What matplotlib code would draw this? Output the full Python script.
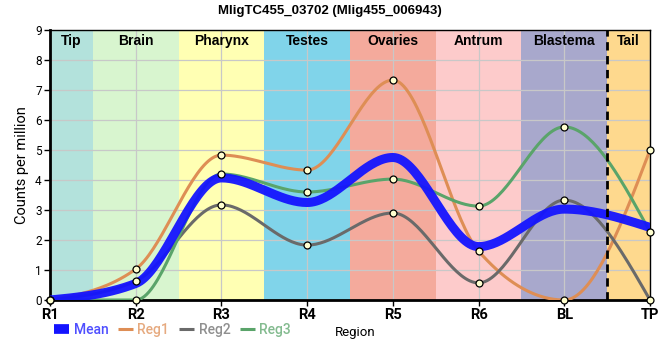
import numpy as np
import matplotlib
matplotlib.use("Agg")
import matplotlib.pyplot as plt
from matplotlib.lines import Line2D

regions = ["R1", "R2", "R3", "R4", "R5", "R6", "BL", "TP"]
reg1 = [0, 1.03, 4.83, 4.33, 7.33, 1.63, 0, 5.0]
reg2 = [0, 0.63, 3.17, 1.83, 2.9, 0.57, 3.33, 0]
reg3 = [0, 0, 4.2, 3.6, 4.03, 3.13, 5.77, 2.27]
mean = [0, 0.55, 4.07, 3.25, 4.75, 1.78, 3.03, 2.42]

band_names = ["Tip", "Brain", "Pharynx", "Testes", "Ovaries", "Antrum", "Blastema", "Tail"]
band_edges = [0, 0.5, 1.5, 2.5, 3.5, 4.5, 5.5, 6.5, 7]
band_colors = ["#b3e2dc", "#d8f5cf", "#ffffb3", "#80d4ea", "#f4aa9c", "#fdcbcb", "#a8a8cc", "#fed98e"]

series_names = ["Reg1", "Reg2", "Reg3"]
series_colors = ["#de8e55", "#6a6a6a", "#5aa46a"]
mean_color = "#1414ff"


def monotone(x, y, n=40):
    # monotone cubic (d3 curveMonotoneX style)
    x = np.asarray(x, float)
    y = np.asarray(y, float)
    h = np.diff(x)
    s = np.diff(y) / h
    m = np.zeros_like(y)
    for i in range(1, len(y) - 1):
        s0, s1 = s[i - 1], s[i]
        p = (s0 * h[i] + s1 * h[i - 1]) / (h[i - 1] + h[i])
        m[i] = (np.sign(s0) + np.sign(s1)) * min(abs(s0), abs(s1), 0.5 * abs(p))
    m[0] = (3 * s[0] - m[1]) / 2
    m[-1] = (3 * s[-1] - m[-2]) / 2
    xs, ys = [], []
    for i in range(len(h)):
        t = np.linspace(0, 1, n)
        h00 = 2 * t**3 - 3 * t**2 + 1
        h10 = t**3 - 2 * t**2 + t
        h01 = -2 * t**3 + 3 * t**2
        h11 = t**3 - t**2
        xs.append(x[i] + t * h[i])
        ys.append(h00 * y[i] + h10 * h[i] * m[i] + h01 * y[i + 1] + h11 * h[i] * m[i + 1])
    return np.concatenate(xs), np.concatenate(ys)


fig = plt.figure(figsize=(6.6, 3.6), dpi=100)
ax = fig.add_axes([50 / 660, 60 / 360, 600 / 660, 270 / 360])

xpos = np.arange(len(regions))
for i, (name, col) in enumerate(zip(band_names, band_colors)):
    ax.axvspan(band_edges[i], band_edges[i + 1], color=col, zorder=0, lw=0)
    ax.text((band_edges[i] + band_edges[i + 1]) / 2, 8.88, name, ha="center", va="top",
            fontsize=10, fontweight="bold", family="Liberation Sans", zorder=6)

ax.grid(True, color="#c8c8c8", lw=0.9, zorder=1)
ax.set_axisbelow(True)
ax.axvline(6.5, color="black", lw=2, ls=(0, (3, 2)), zorder=5)

for vals, col in zip([reg1, reg2, reg3], series_colors):
    xs, ys = monotone(xpos, vals)
    ax.plot(xs, ys, color=col, lw=2.2, zorder=3, solid_capstyle="round")

xs, ys = monotone(xpos, mean)
ax.plot(xs, ys, color=mean_color, lw=6.5, alpha=0.95, zorder=4, solid_capstyle="round")

for vals in [reg1, reg2, reg3]:
    ax.plot(xpos, vals, ls="none", marker="o", ms=5, mfc="#ffffd0", mec="black", mew=0.9,
            zorder=7, clip_on=False)

ax.set_xlim(0, 7)
ax.set_ylim(0, 9)
ax.set_xticks(xpos)
ax.set_xticklabels(regions, fontsize=10.5, fontweight="bold", family="Roboto")
ax.set_yticks(range(10))
ax.tick_params(axis="y", labelsize=8.5, length=4, width=1, pad=2)
ax.tick_params(axis="x", length=4, width=1, pad=2)
for lab in ax.get_yticklabels():
    lab.set_family("Roboto")
for side in ["left", "bottom"]:
    ax.spines[side].set_linewidth(2)
for side in ["top", "right"]:
    ax.spines[side].set_linewidth(1)
ax.set_ylabel("Counts per million", fontsize=10.5, family="Roboto", labelpad=4)
ax.set_xlabel("Region", fontsize=9.5, family="Roboto", labelpad=1)
ax.xaxis.set_label_coords(0.508, -0.098)

fig.text(0.5, 0.985, "MligTC455_03702 (Mlig455_006943)", ha="center", va="top",
         fontsize=9.5, fontweight="bold", family="Liberation Sans")

handles = [Line2D([], [], color=mean_color, lw=7, solid_capstyle="butt")]
handles += [Line2D([], [], color=c, lw=2.2, solid_capstyle="butt") for c in series_colors]
leg = fig.legend(handles, ["Mean"] + series_names, loc="center left", bbox_to_anchor=(0.082, 0.083),
                 ncol=4, frameon=False, handlelength=1.1, handletextpad=0.3,
                 columnspacing=0.7, borderpad=0, borderaxespad=0,
                 prop={"family": "Roboto", "size": 10, "weight": "medium"})
for txt, c in zip(leg.get_texts(), [mean_color] + series_colors):
    txt.set_color(c)
    txt.set_alpha(0.75)

fig.savefig("out.png", dpi=100)
